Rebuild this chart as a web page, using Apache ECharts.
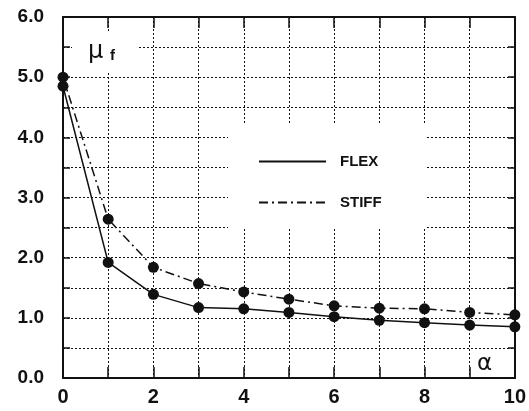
<!DOCTYPE html>
<html>
<head>
<meta charset="utf-8">
<script src="https://cdn.jsdelivr.net/npm/echarts@6/dist/echarts.min.js"></script>
<style>
  html, body { margin: 0; padding: 0; background: #fff; }
  #chart { width: 529px; height: 411px; }
</style>
</head>
<body>
<div id="chart"></div>
<script>
// alpha values along the horizontal axis
const alpha = [0, 1, 2, 3, 4, 5, 6, 7, 8, 9, 10];
// mu_f for the flexible and stiff cases
const flex  = [4.85, 1.92, 1.39, 1.17, 1.15, 1.09, 1.02, 0.96, 0.92, 0.88, 0.85];
const stiff = [5.00, 2.64, 1.84, 1.57, 1.43, 1.31, 1.20, 1.16, 1.15, 1.09, 1.05];
// labelled ticks
const xTickLabels = ['0', '2', '4', '6', '8', '10'];
const yTickLabels = ['0.0', '1.0', '2.0', '3.0', '4.0', '5.0', '6.0'];

const ink = '#111';
const labelFont = 'Liberation Sans, Arial, sans-serif';

const pairs = (xs, ys) => xs.map((x, i) => [x, ys[i]]);

const gridLine = { show: true, lineStyle: { color: ink, width: 1, type: [2, 2] } };

const chart = echarts.init(document.getElementById('chart'), null, { renderer: 'canvas' });
chart.setOption({
  animation: false,
  backgroundColor: '#fff',
  grid: { left: 63, right: 11, top: 17, bottom: 33 },
  xAxis: [{
    type: 'value', min: 0, max: 10, interval: 1,
    axisLine: { show: true, onZero: false, lineStyle: { color: ink, width: 2 } },
    axisTick: { show: true, inside: true, length: 11, lineStyle: { color: ink, width: 1.5 } },
    axisLabel: {
      margin: 9, color: ink, fontSize: 20, fontWeight: 'bold', fontFamily: labelFont,
      formatter: v => (xTickLabels.includes(String(v)) ? String(v) : '')
    },
    splitLine: gridLine
  }, {
    type: 'value', position: 'top', min: 0, max: 10, interval: 1,
    axisLine: { show: true, onZero: false, lineStyle: { color: ink, width: 2 } },
    axisTick: { show: true, inside: true, length: 11, lineStyle: { color: ink, width: 1.5 } },
    axisLabel: { show: false }, splitLine: { show: false }
  }],
  yAxis: [{
    type: 'value', min: 0, max: 6, interval: 0.5,
    axisLine: { show: true, onZero: false, lineStyle: { color: ink, width: 2 } },
    axisTick: { show: true, inside: true, length: 7, lineStyle: { color: ink, width: 1.5 } },
    axisLabel: {
      margin: 19, color: ink, fontSize: 19, fontWeight: 'bold', fontFamily: labelFont,
      formatter: v => (yTickLabels.includes(v.toFixed(1)) ? v.toFixed(1) : '')
    },
    splitLine: gridLine
  }, {
    type: 'value', position: 'right', min: 0, max: 6, interval: 0.5,
    axisLine: { show: true, onZero: false, lineStyle: { color: ink, width: 2 } },
    axisTick: { show: true, inside: true, length: 7, lineStyle: { color: ink, width: 1.5 } },
    axisLabel: { show: false }, splitLine: { show: false }
  }],
  legend: {
    left: 228, top: 123,
    orient: 'vertical',
    backgroundColor: '#fff',
    padding: [31, 44, 18, 30],
    itemWidth: 67, itemHeight: 14, itemGap: 26,
    itemStyle: { opacity: 0 },
    textStyle: { color: ink, fontSize: 15, fontWeight: 'bold', fontFamily: labelFont, padding: [0, 0, 0, 9] },
    data: ['FLEX', 'STIFF']
  },
  graphic: [{
    type: 'text', left: 72, top: 32, z: 10,
    style: {
      text: '{m|μ}  {s|f}',
      rich: {
        m: { fontSize: 24, fontFamily: 'DejaVu Sans, sans-serif', fill: ink },
        s: { fontSize: 15, fontWeight: 'bold', fontFamily: labelFont, fill: ink, padding: [8, 0, 0, 0] }
      },
      backgroundColor: '#fff',
      padding: [8, 22, 8, 16]
    }
  }, {
    type: 'text', left: 477, top: 353, z: 10,
    style: { text: 'α', fontSize: 23, fontFamily: 'DejaVu Sans, sans-serif', fill: ink }
  }],
  series: [{
    name: 'FLEX', type: 'line', data: pairs(alpha, flex),
    symbol: 'circle', symbolSize: 11,
    itemStyle: { color: ink },
    lineStyle: { color: ink, width: 1.5, type: 'solid' },
    z: 5
  }, {
    name: 'STIFF', type: 'line', data: pairs(alpha, stiff),
    symbol: 'circle', symbolSize: 11,
    itemStyle: { color: ink },
    lineStyle: { color: ink, width: 1.5, type: [9, 4, 2, 4] },
    z: 5
  }]
});
</script>
</body>
</html>
